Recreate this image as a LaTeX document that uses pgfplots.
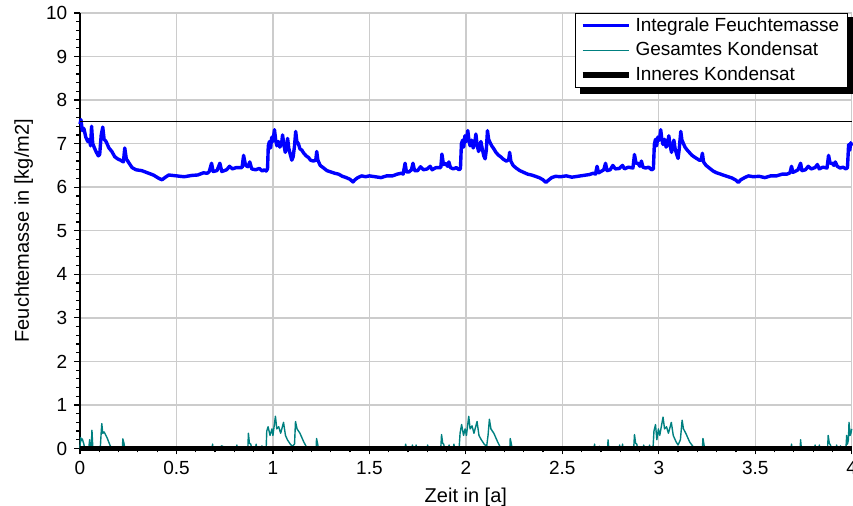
\documentclass[border=0pt]{standalone}
\usepackage{pgfplots}
\pgfplotsset{compat=1.18}
\usepackage{fontspec}
\setmainfont{Liberation Sans}
\definecolor{kond}{RGB}{0,128,128}
\definecolor{gridgray}{RGB}{204,204,204}

\begin{document}
\fontsize{9.5}{11.4}\selectfont
\begin{tikzpicture}
\begin{axis}[
  name=ax,
  width=385.85pt, height=217.75pt, scale only axis,
  xmin=0, xmax=4, ymin=0, ymax=10,
  axis x line=bottom, axis y line=left,
  axis line style={-, line width=1.3pt},
  xtick={0,0.5,...,4}, ytick={0,1,...,10},
  minor x tick num=4, minor y tick num=4,
  tick align=outside,
  major tick length=3pt, minor tick length=2pt,
  every tick/.style={black, line width=0.6pt},
  grid=major, major grid style={gridgray, line width=0.7pt},
  xlabel={Zeit in [a]}, ylabel={Feuchtemasse in [kg/m2]},
  label style={font=\fontsize{10}{12}\selectfont},
  /pgf/number format/assume math mode=true,
  clip=false,
  legend style={name=leg, at={(0.995,1)}, anchor=north east, draw=black, line width=0.5pt,
    fill=white, font=\fontsize{9.5}{11.4}\selectfont,
    inner xsep=2pt, inner ysep=0pt},
  legend cell align=left,
  legend image code/.code={\draw[#1] (0pt,0pt) -- (23pt,0pt);},
]
% Integrale Feuchtemasse
\addplot[blue, line width=1.7pt, line join=round] coordinates {
(0.000,7.45) (0.005,7.55) (0.012,7.30) (0.020,7.35) (0.030,7.15) (0.040,7.05)
(0.048,7.10) (0.055,6.95) (0.060,7.40) (0.066,7.00) (0.075,6.90) (0.085,6.80)
(0.095,6.72) (0.102,6.75) (0.110,7.20) (0.118,7.38) (0.125,7.10) (0.135,7.05)
(0.150,6.90) (0.165,6.82) (0.180,6.70) (0.195,6.65) (0.210,6.62) (0.225,6.58)
(0.232,6.90) (0.240,6.65) (0.255,6.55) (0.270,6.45) (0.290,6.40) (0.320,6.38)
(0.350,6.33) (0.380,6.28) (0.410,6.20) (0.425,6.17) (0.440,6.22) (0.460,6.28)
(0.500,6.26) (0.540,6.24) (0.580,6.27) (0.610,6.28) (0.640,6.33) (0.660,6.32)
(0.670,6.36) (0.682,6.55) (0.690,6.36) (0.710,6.38) (0.725,6.55) (0.735,6.36)
(0.760,6.40) (0.775,6.48) (0.790,6.42) (0.810,6.45) (0.840,6.45) (0.848,6.73)
(0.858,6.50) (0.870,6.47) (0.880,6.58) (0.890,6.42) (0.910,6.40) (0.930,6.43)
(0.945,6.37) (0.955,6.40) (0.965,6.37)
(0.972,6.42) (0.976,6.95) (0.982,7.05) (0.988,6.90) (0.994,7.15) (1.000,7.05)
(1.008,7.32) (1.014,7.10) (1.020,6.95) (1.028,7.05) (1.036,6.92) (1.045,7.00)
(1.050,7.20) (1.056,7.00) (1.064,6.80) (1.070,6.88) (1.076,7.12) (1.082,6.90)
(1.090,6.75) (1.098,6.62) (1.105,6.70) (1.112,6.95) (1.118,7.28) (1.124,7.05)
(1.132,7.00) (1.140,6.88) (1.150,6.85) (1.160,6.78) (1.172,6.72) (1.185,6.68)
(1.195,6.62) (1.210,6.60) (1.222,6.62) (1.227,6.82) (1.233,6.62) (1.245,6.50)
(1.260,6.45) (1.280,6.38) (1.300,6.35) (1.320,6.32) (1.340,6.30) (1.360,6.25)
(1.380,6.22) (1.400,6.18) (1.415,6.12) (1.425,6.17) (1.440,6.22) (1.460,6.26)
(1.480,6.24) (1.500,6.26) (1.530,6.24) (1.560,6.22) (1.590,6.26) (1.620,6.26)
(1.645,6.30) (1.665,6.32) (1.675,6.30) (1.685,6.55) (1.692,6.35) (1.705,6.35)
(1.718,6.40) (1.726,6.55) (1.734,6.38) (1.750,6.38) (1.765,6.47) (1.780,6.40)
(1.800,6.42) (1.815,6.48) (1.825,6.40) (1.845,6.45) (1.870,6.45) (1.876,6.76)
(1.884,6.52) (1.895,6.55) (1.905,6.48) (1.912,6.58) (1.920,6.45) (1.935,6.42)
(1.950,6.45) (1.965,6.40)
(1.972,6.43) (1.977,7.00) (1.983,7.08) (1.989,6.92) (1.995,7.18) (2.002,7.05)
(2.010,7.30) (2.016,7.08) (2.022,6.95) (2.030,7.08) (2.038,6.90) (2.046,7.02)
(2.052,7.22) (2.058,6.98) (2.066,6.82) (2.072,6.90) (2.078,7.05) (2.085,6.88)
(2.093,6.72) (2.100,6.65) (2.106,6.85) (2.112,7.30) (2.118,7.10) (2.126,7.02)
(2.134,6.95) (2.145,6.88) (2.156,6.80) (2.168,6.74) (2.180,6.70) (2.195,6.64)
(2.210,6.60) (2.222,6.63) (2.227,6.80) (2.233,6.60) (2.245,6.50) (2.260,6.44)
(2.280,6.38) (2.300,6.34) (2.320,6.30) (2.340,6.28) (2.360,6.25) (2.380,6.22)
(2.400,6.17) (2.415,6.11) (2.428,6.16) (2.445,6.22) (2.465,6.25) (2.490,6.24)
(2.520,6.26) (2.550,6.23) (2.580,6.25) (2.610,6.27) (2.640,6.29) (2.660,6.32)
(2.672,6.30) (2.680,6.48) (2.688,6.33) (2.700,6.36) (2.715,6.40) (2.724,6.55)
(2.732,6.38) (2.748,6.40) (2.762,6.50) (2.775,6.42) (2.795,6.43) (2.812,6.50)
(2.822,6.42) (2.842,6.46) (2.866,6.44) (2.874,6.75) (2.882,6.55) (2.892,6.55)
(2.902,6.48) (2.910,6.60) (2.918,6.46) (2.932,6.44) (2.948,6.46) (2.962,6.40)
(2.972,6.42) (2.977,6.98) (2.983,7.10) (2.989,6.95) (2.995,7.15) (3.003,7.08)
(3.010,7.32) (3.016,7.10) (3.022,6.98) (3.030,7.10) (3.038,6.92) (3.046,7.00)
(3.052,7.18) (3.058,6.98) (3.066,6.80) (3.072,6.92) (3.078,7.08) (3.085,6.88)
(3.093,6.75) (3.100,6.66) (3.106,6.88) (3.114,7.28) (3.120,7.08) (3.128,7.00)
(3.136,6.92) (3.146,6.86) (3.158,6.80) (3.170,6.74) (3.182,6.70) (3.196,6.66)
(3.210,6.62) (3.220,6.62) (3.226,6.78) (3.232,6.58) (3.245,6.50) (3.262,6.44)
(3.282,6.37) (3.300,6.33) (3.320,6.30) (3.340,6.27) (3.360,6.24) (3.380,6.21)
(3.400,6.16) (3.412,6.11) (3.425,6.17) (3.445,6.22) (3.465,6.26) (3.490,6.24)
(3.520,6.25) (3.550,6.22) (3.580,6.26) (3.610,6.26) (3.640,6.30) (3.665,6.30)
(3.680,6.33) (3.688,6.48) (3.695,6.34) (3.710,6.37) (3.722,6.40) (3.735,6.55)
(3.742,6.38) (3.760,6.40) (3.775,6.48) (3.790,6.42) (3.810,6.45) (3.822,6.52)
(3.832,6.42) (3.850,6.46) (3.872,6.44) (3.880,6.73) (3.888,6.55) (3.898,6.55)
(3.908,6.50) (3.915,6.58) (3.925,6.48) (3.940,6.44) (3.955,6.46) (3.970,6.42)
(3.978,6.45) (3.984,6.98) (3.990,6.85) (3.995,7.02) (4.000,6.95)
};
\addlegendentry{Integrale Feuchtemasse}
% Gesamtes Kondensat
\addplot[kond, line width=0.7pt, line join=round] coordinates {
(0,0) (0.003,0.25) (0.008,0.18) (0.012,0.22) (0.020,0.10) (0.025,0) (0.045,0)
(0.050,0.20) (0.053,0) (0.058,0) (0.062,0.42) (0.066,0.05) (0.070,0) (0.105,0)
(0.110,0.38) (0.113,0.57) (0.118,0.35) (0.125,0.38) (0.140,0.25) (0.155,0.08)
(0.165,0) (0.220,0) (0.222,0.22) (0.228,0.12) (0.232,0) (0.685,0) (0.687,0.10)
(0.690,0) (0.730,0) (0.733,0.06) (0.740,0.05) (0.743,0) (0.810,0) (0.813,0.08)
(0.816,0) (0.870,0) (0.873,0.35) (0.878,0.12) (0.885,0.10) (0.890,0) (0.910,0)
(0.913,0.10) (0.916,0) (0.940,0) (0.943,0.06) (0.946,0) (0.965,0) (0.968,0.40)
(0.975,0.50) (0.985,0.30) (0.995,0.45) (1.000,0.30) (1.013,0.74) (1.020,0.45)
(1.030,0.50) (1.040,0.35) (1.055,0.60) (1.065,0.30) (1.075,0.20) (1.090,0.10)
(1.100,0.05) (1.112,0.10) (1.117,0.62) (1.125,0.45) (1.140,0.35) (1.160,0.15)
(1.178,0) (1.224,0) (1.226,0.23) (1.232,0.10) (1.236,0)
(1.685,0) (1.688,0.10) (1.692,0) (1.720,0) (1.723,0.08) (1.727,0) (1.740,0)
(1.742,0.08) (1.745,0) (1.800,0) (1.802,0.08) (1.805,0) (1.870,0) (1.874,0.32)
(1.880,0.12) (1.885,0.10) (1.890,0) (1.910,0) (1.913,0.08) (1.916,0) (1.935,0)
(1.938,0.10) (1.942,0) (1.965,0) (1.970,0.35) (1.978,0.55) (1.988,0.30)
(1.996,0.45) (2.003,0.30) (2.015,0.74) (2.022,0.45) (2.032,0.52) (2.042,0.35)
(2.058,0.62) (2.068,0.30) (2.080,0.20) (2.095,0.10) (2.108,0.05) (2.115,0.30)
(2.122,0.67) (2.130,0.45) (2.145,0.35) (2.165,0.15) (2.182,0) (2.228,0)
(2.230,0.23) (2.236,0.10) (2.240,0)
(2.665,0) (2.667,0.10) (2.670,0) (2.690,0) (2.692,0.05) (2.695,0) (2.735,0)
(2.737,0.20) (2.741,0) (2.795,0) (2.797,0.08) (2.800,0) (2.810,0) (2.812,0.10)
(2.815,0) (2.870,0) (2.874,0.32) (2.880,0.12) (2.886,0.10) (2.890,0) (2.920,0)
(2.922,0.08) (2.925,0) (2.950,0) (2.952,0.08) (2.955,0) (2.970,0) (2.975,0.40)
(2.983,0.55) (2.990,0.20) (2.998,0.45) (3.005,0.30) (3.022,0.72) (3.030,0.45)
(3.040,0.50) (3.050,0.35) (3.065,0.60) (3.075,0.30) (3.090,0.15) (3.100,0.08)
(3.112,0.20) (3.121,0.65) (3.128,0.45) (3.140,0.35) (3.160,0.15) (3.185,0)
(3.226,0) (3.229,0.23) (3.234,0.10) (3.238,0)
(3.686,0) (3.688,0.10) (3.691,0) (3.733,0) (3.735,0.20) (3.739,0) (3.808,0)
(3.810,0.08) (3.813,0) (3.830,0) (3.832,0.08) (3.835,0) (3.875,0) (3.878,0.30)
(3.884,0.12) (3.890,0.08) (3.895,0) (3.920,0) (3.922,0.08) (3.925,0) (3.940,0)
(3.942,0.06) (3.945,0) (3.970,0) (3.974,0.30) (3.978,0.10) (3.983,0.20)
(3.986,0.60) (3.992,0.30) (3.996,0.35) (4.000,0.45)
};
\addlegendentry{Gesamtes Kondensat}
% Inneres Kondensat
\addplot[black, line width=2.8pt] coordinates {(0,0) (4,0)};
\addlegendentry{Inneres Kondensat}
% Grenzwert
\addplot[black, line width=0.6pt, forget plot] coordinates {(0,7.5) (4,7.5)};
\end{axis}
% Schatten der Legende
\fill[black] ([xshift=2.5pt,yshift=-3pt]leg.south west) rectangle ([xshift=2.5pt]leg.south east);
\fill[black] ([yshift=-3pt]leg.south east) rectangle ([xshift=2.5pt,yshift=-2pt]leg.north east);
\pgfresetboundingbox
\path[use as bounding box] ([xshift=-40pt,yshift=-28.75pt]ax.south west)
  rectangle ([xshift=0.65pt,yshift=6.5pt]ax.north east);
\end{tikzpicture}
\end{document}
